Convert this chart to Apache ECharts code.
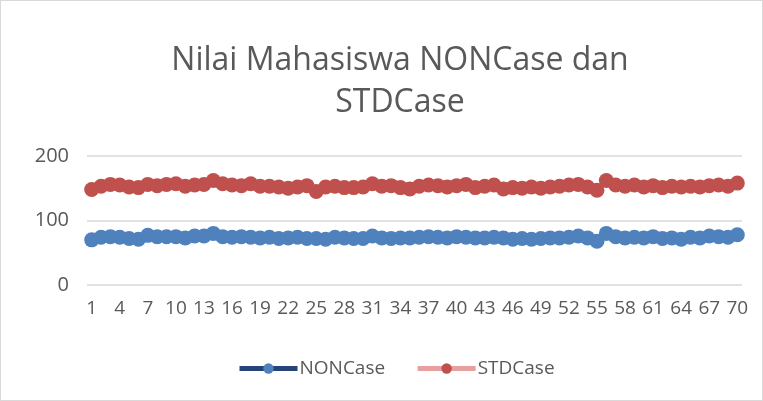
<!DOCTYPE html>
<html>
<head>
<meta charset="utf-8">
<script src="https://cdn.jsdelivr.net/npm/echarts@6/dist/echarts.min.js"></script>
<style>
  html, body { margin: 0; padding: 0; background: #fff; }
  #chart { width: 761px; height: 399px; border: 1px solid #d9d9d9; }
</style>
</head>
<body>
<div id="chart"></div>
<script>
// nilai per mahasiswa
var mahasiswa = [];
for (var i = 1; i <= 70; i++) mahasiswa.push(String(i));

var nonCase = [70, 74, 75, 74, 72, 71, 77, 75, 75, 75, 73, 76, 76, 80, 75, 74, 75, 74, 73, 74,
    72, 73, 74, 72, 72, 71, 74, 73, 72, 72, 76, 73, 72, 73, 73, 74, 75, 74, 73, 75,
    74, 73, 73, 74, 73, 71, 72, 71, 72, 73, 73, 74, 76, 73, 68, 80, 75, 73, 74, 73,
    75, 72, 73, 71, 74, 73, 76, 75, 74, 78];

var stdCase = [148, 153, 156, 155, 152, 151, 156, 154, 156, 157, 153, 155, 156, 162, 157, 155, 154, 157, 153, 153,
    152, 150, 152, 154, 145, 152, 153, 151, 151, 152, 157, 153, 154, 151, 149, 153, 155, 154, 152, 154,
    156, 151, 153, 155, 149, 151, 150, 152, 150, 152, 153, 155, 156, 152, 147, 162, 155, 153, 155, 152,
    154, 151, 153, 152, 153, 152, 154, 155, 153, 158];

var yTicks = [0, 100, 200];

var fontUtama = 'Open Sans';
var warnaTeks = '#595959';

var myChart = echarts.init(document.getElementById('chart'));

var option = {
    animation: false,
    title: {
        text: 'Nilai Mahasiswa NONCase dan\nSTDCase',
        left: 394,
        textAlign: 'center',
        top: 34,
        textStyle: { fontFamily: fontUtama, fontSize: 32, fontWeight: 'normal', color: warnaTeks, lineHeight: 42 }
    },
    legend: {
        bottom: 17,
        left: 231,
        itemWidth: 58,
        itemHeight: 13,
        itemGap: 30,
        lineStyle: { width: 5 },
        textStyle: { fontFamily: fontUtama, fontSize: 19, color: warnaTeks, padding: [0, 0, 0, -3] },
        data: ['NONCase', 'STDCase']
    },
    grid: { left: 86, right: 20, top: 155, bottom: 115 },
    xAxis: {
        type: 'category',
        data: mahasiswa,
        axisLine: { show: false },
        axisTick: { show: false },
        axisLabel: { interval: 2, fontFamily: fontUtama, fontSize: 19, color: warnaTeks, margin: 14 }
    },
    yAxis: {
        type: 'value',
        min: yTicks[0],
        max: yTicks[yTicks.length - 1],
        interval: 100,
        axisLabel: { fontFamily: fontUtama, fontSize: 20, color: warnaTeks, margin: 18 },
        splitLine: { lineStyle: { color: '#d9d9d9', width: 1.5 } }
    },
    series: [
        {
            name: 'NONCase',
            type: 'line',
            data: nonCase,
            symbol: 'circle',
            symbolSize: 15,
            showAllSymbol: true,
            itemStyle: { color: '#4f81bd' },
            lineStyle: { color: '#264478', width: 5 }
        },
        {
            name: 'STDCase',
            type: 'line',
            data: stdCase,
            symbol: 'circle',
            symbolSize: 15,
            showAllSymbol: true,
            itemStyle: { color: '#c0504d' },
            lineStyle: { color: '#e6a09f', width: 5 }
        }
    ]
};

myChart.setOption(option);
</script>
</body>
</html>
